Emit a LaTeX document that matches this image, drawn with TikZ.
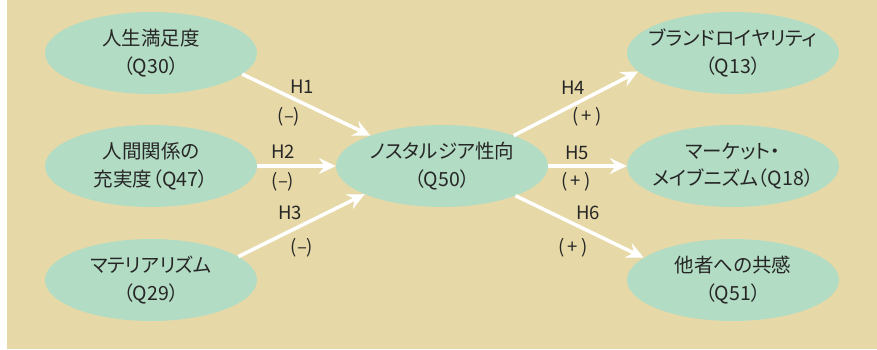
\documentclass[tikz,border=0pt]{standalone}
\usepackage{fontspec}
\setmainfont[RawFeature=+palt]{Noto Sans CJK JP}
\usetikzlibrary{shapes.geometric,arrows.meta}
\definecolor{bgc}{RGB}{230,217,167}
\definecolor{ellc}{RGB}{179,220,196}
\definecolor{txtc}{RGB}{38,38,38}
\begin{document}
\begin{tikzpicture}[x=1pt,y=-1pt,
  ell/.style={ellipse, fill=ellc, minimum width=212pt, minimum height=82pt, inner sep=0pt},
  elltext/.style={align=center, text=txtc, inner sep=0pt, font=\fontsize{19.5}{27.5}\selectfont},
  lab/.style={text=txtc, font=\fontsize{18.5}{20}\selectfont, inner sep=0pt},
  arr/.style={draw=white, line width=3.5pt, -{Stealth[length=17pt,width=16pt,inset=6pt]}}]
\useasboundingbox (0,0) rectangle (877,349);
\fill[white] (0,0) rectangle (877,349);
\fill[bgc] (7,0) rectangle (877,349);
% nodes
\node[ell, label={[elltext]center:人生満足度\\（Q30）}] (tl) at (151,53) {};
\node[ell, label={[elltext]center:人間関係の\\充実度（Q47）}] (ml) at (151,166) {};
\node[ell, label={[elltext]center:マテリアリズム\\（Q29）}] (bl) at (151,280) {};
\node[ell, label={[elltext]center:ノスタルジア性向\\（Q50）}] (c) at (442,166) {};
\node[ell, label={[elltext]center:ブランドロイヤリティ\\（Q13）}] (tr) at (733,53) {};
\node[ell, label={[elltext]center:マーケット・\\メイブニズム（Q18）}] (mr) at (733,166) {};
\node[ell, label={[elltext]center:他者への共感\\（Q51）}] (br) at (733,280) {};
% connectors
\draw[arr] (tl.-13.4) -- (c.157.4);
\draw[arr] (ml.east) -- (c.west);
\draw[arr] (bl.15.2) -- (c.200.6);
\draw[arr] (c.23.4) -- (tr.191.9);
\draw[arr] (c.east) -- (mr.west);
\draw[arr] (c.-22.7) -- (br.166);
% labels
\node[lab] (h1) at (302,87) {H1};
\node[lab] (s1) at (289,117) {(–)};
\node[lab] (h2) at (283,152) {H2};
\node[lab] (s2) at (283,182) {(–)};
\node[lab] (h3) at (290,213) {H3};
\node[lab] (s3) at (302,248) {(–)};
\node[lab] (h4) at (573,88) {H4};
\node[lab] (s4) at (587,117) {(\,+\,)};
\node[lab] (h5) at (577,153) {H5};
\node[lab] (s5) at (576,182) {(\,+\,)};
\node[lab] (h6) at (588,213) {H6};
\node[lab] (s6) at (573,248) {(\,+\,)};
\end{tikzpicture}
\end{document}
